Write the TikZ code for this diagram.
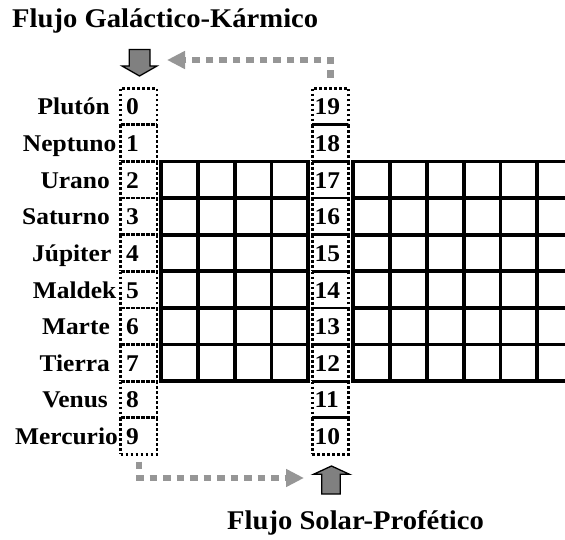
\documentclass[tikz,border=0pt]{standalone}
\usepackage{fontspec}
\setmainfont{Liberation Serif}[FakeStretch=1.06]
\usetikzlibrary{arrows.meta}
\definecolor{dotgray}{RGB}{150,150,150}
\definecolor{blockgray}{RGB}{128,128,128}
\begin{document}
\begin{tikzpicture}[x=1pt,y=-1pt,
  lbl/.style={font=\fontsize{24}{26}\selectfont\bfseries, inner sep=0pt, anchor=base east},
  num/.style={font=\fontsize{24}{26}\selectfont\bfseries, inner sep=0pt, anchor=base west},
  cellbox/.style={draw=black, line width=2.8pt, dash pattern=on 2.8pt off 2.2pt,
    minimum width=36.5pt, minimum height=36.6pt, inner sep=0pt},
  gridline/.style={line width=3.8pt, black, line cap=rect},
  flow/.style={dotgray, line width=6.5pt, dash pattern=on 7.5pt off 6pt,
    -{Triangle[length=18pt,width=17pt]}},
  titletext/.style={font=\fontsize{27}{29}\selectfont\bfseries, inner sep=0pt, anchor=base west},
  blockarrow/.style={fill=blockgray, draw=black, line width=1.3pt, line join=miter}
]
\useasboundingbox (0,0) rectangle (565,540);

% grids
\foreach \k in {2,...,8} {
  \draw[gridline] (161,88.3+36.6*\k) -- (308.2,88.3+36.6*\k);
  \draw[gridline] (353.3,88.3+36.6*\k) -- (575,88.3+36.6*\k);
}
\foreach \j in {0,...,4} {
  \draw[gridline] (161+36.8*\j,161.5) -- (161+36.8*\j,381.1);
}
\foreach \j in {0,...,6} {
  \draw[gridline] (353.3+36.8*\j,161.5) -- (353.3+36.8*\j,381.1);
}

% dotted cells and numbers
\foreach \i in {0,...,9} {
  \node[cellbox] (L\i) at (138.8,106.6+36.6*\i) {};
  \node[cellbox] (R\i) at (330.5,106.6+36.6*\i) {};
  \pgfmathtruncatemacro\rn{19-\i}
  \node[num] (nL\i) at (126,115+36.6*\i) {\i};
  \node[num] (nR\i) at (314.5,115+36.6*\i) {\rn};
}

% planet labels
\foreach \pl/\xe [count=\i from 0] in {Plutón/110,Neptuno/116.5,Urano/110,Saturno/110,Júpiter/111.5,Maldek/116.5,Marte/110,Tierra/110,Venus/108,Mercurio/118} {
  \node[lbl] (P\i) at (\xe,115+36.6*\i) {\pl};
}

% block arrows
\draw[blockarrow] (129.3,49.5) -- (150,49.5) -- (150,66) -- (157,66) -- (139.5,76)
  -- (122,66) -- (129.3,66) -- cycle;
\draw[blockarrow] (321.7,494) -- (340.3,494) -- (340.3,474.3) -- (349.5,474.3)
  -- (331.5,466) -- (313.5,474.3) -- (321.7,474.3) -- cycle;

% flow connectors
\coordinate (topend) at (167,60);
\coordinate (botend) at (304,478);
\draw[flow] ([yshift=9pt]R0.north) |- (topend);
\draw[flow] ([yshift=-6pt]L9.south) |- (botend);

% titles
\node[titletext] (t1) at (12,27.5) {Flujo Galáctico-Kármico};
\node[titletext] (t2) at (227,529.5) {Flujo Solar-Profético};
\end{tikzpicture}
\end{document}
